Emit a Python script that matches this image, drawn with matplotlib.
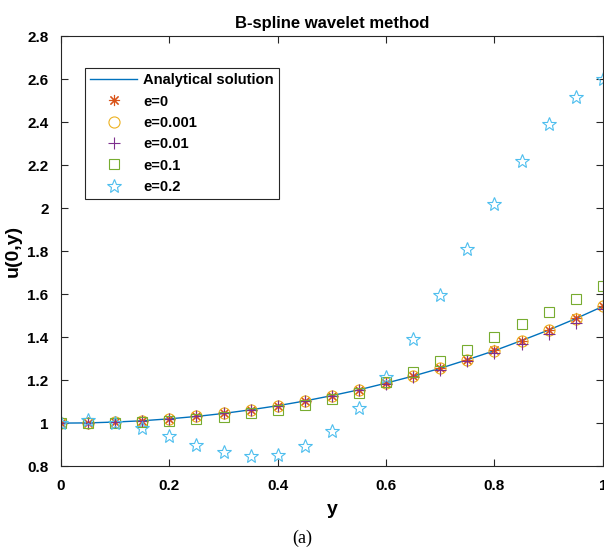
import numpy as np
import matplotlib.pyplot as plt

# dati
y = [0, 0.05, 0.1, 0.15, 0.2, 0.25, 0.3, 0.35, 0.4, 0.45, 0.5,
     0.55, 0.6, 0.65, 0.7, 0.75, 0.8, 0.85, 0.9, 0.95, 1.0]
analitica = [1.000, 1.001, 1.005, 1.011, 1.020, 1.031, 1.045, 1.062, 1.081, 1.103, 1.128,
             1.155, 1.186, 1.219, 1.255, 1.295, 1.337, 1.384, 1.433, 1.486, 1.543]
e0 = [1.000, 1.001, 1.005, 1.011, 1.020, 1.031, 1.045, 1.062, 1.081, 1.103, 1.128,
      1.155, 1.186, 1.219, 1.255, 1.295, 1.338, 1.384, 1.434, 1.487, 1.544]
e0001 = [1.000, 1.001, 1.005, 1.011, 1.020, 1.031, 1.045, 1.062, 1.081, 1.103, 1.128,
         1.155, 1.186, 1.219, 1.255, 1.295, 1.337, 1.384, 1.433, 1.486, 1.543]
e001 = [1.000, 1.001, 1.005, 1.011, 1.020, 1.031, 1.045, 1.061, 1.080, 1.101, 1.125,
        1.152, 1.182, 1.214, 1.249, 1.287, 1.327, 1.370, 1.416, 1.465, 1.530]
e01 = [1.000, 1.000, 1.002, 1.006, 1.012, 1.020, 1.030, 1.045, 1.063, 1.084, 1.110,
       1.140, 1.190, 1.237, 1.288, 1.340, 1.400, 1.460, 1.516, 1.578, 1.637]
e02 = [1.000, 1.015, 1.000, 0.975, 0.940, 0.900, 0.865, 0.846, 0.850, 0.893, 0.963,
       1.070, 1.214, 1.390, 1.595, 1.810, 2.020, 2.220, 2.390, 2.516, 2.600]

plt.rcParams['font.family'] = ['Liberation Sans', 'DejaVu Sans']
plt.rcParams['font.weight'] = 'bold'

fig = plt.figure(figsize=(6.04, 5.49), dpi=100)
ax = fig.add_axes([0.101, 0.151, 0.897, 0.783])

# asterisco a 8 bracci come in MATLAB
asterisco = (8, 2, 0)

ax.plot(y, analitica, '-', color='#0072BD', lw=1, label='Analytical solution')
ax.plot(y, e0, marker=asterisco, color='#D95319', ms=8, mew=0.8, ls='none', label='e=0')
ax.plot(y, e0001, 'o', color='#EDB120', ms=8, mfc='none', mew=0.8, ls='none', label='e=0.001')
ax.plot(y, e001, '+', color='#7E2F8E', ms=9, mew=0.8, ls='none', label='e=0.01')
ax.plot(y, e01, 's', color='#77AC30', ms=7, mfc='none', mew=0.8, ls='none', label='e=0.1')
ax.plot(y, e02, '*', color='#4DBEEE', ms=10, mfc='none', mew=0.8, ls='none', label='e=0.2')

ax.set_xlim(0, 1)
ax.set_ylim(0.8, 2.8)
ax.set_xticks([0, 0.2, 0.4, 0.6, 0.8, 1])
ax.set_xticklabels(['0', '0.2', '0.4', '0.6', '0.8', '1'])
ax.set_yticks([0.8, 1, 1.2, 1.4, 1.6, 1.8, 2, 2.2, 2.4, 2.6, 2.8])
ax.set_yticklabels(['0.8', '1', '1.2', '1.4', '1.6', '1.8', '2', '2.2', '2.4', '2.6', '2.8'])
ax.tick_params(direction='in', top=True, right=True, labelsize=11, length=5, color='#262626')
ax.tick_params(axis='x', pad=9)
ax.tick_params(axis='y', pad=9)
for s in ax.spines.values():
    s.set_color('#262626')
    s.set_linewidth(0.8)

ax.set_title('B-spline wavelet method', fontsize=12, fontweight='bold', pad=6)
ax.set_xlabel('y', fontsize=14, fontweight='bold', labelpad=6)
ax.set_ylabel('u(0,y)', fontsize=14, fontweight='bold', labelpad=4)

leg = ax.legend(loc='upper left', bbox_to_anchor=(0.044, 0.926), borderaxespad=0,
                fontsize=10.6, fancybox=False, edgecolor='#262626', framealpha=1,
                handlelength=3.2, handletextpad=0.4, labelspacing=0.5, borderpad=0.35)
leg.get_frame().set_linewidth(0.8)

fig.text(0.5, 0.02, '(a)', ha='center', va='center', fontsize=13,
         family='Liberation Serif', fontweight='normal')

fig.savefig('out.png', dpi=100)
